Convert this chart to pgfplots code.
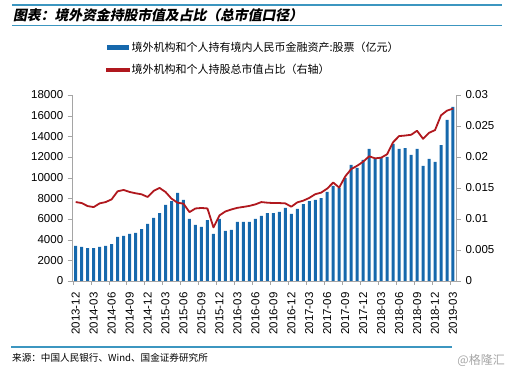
\documentclass[border=0pt]{standalone}
\usepackage{pgfplots}
\usepackage{pgfplotstable}
\pgfplotsset{compat=1.18}
\usepackage{fontspec}
\setmainfont{Liberation Sans}
\newfontfamily\cjk{Noto Sans CJK SC}
\newfontfamily\cjktitle[FakeSlant=0.2]{Noto Sans CJK SC}
\definecolor{barblue}{RGB}{22,104,172}
\definecolor{linered}{RGB}{176,24,30}
\definecolor{rulecol}{RGB}{60,150,192}
\definecolor{axgray}{RGB}{165,165,165}

\pgfplotstableread{
x bar ratio
0 3390 0.01273
1 3290 0.01257
2 3190 0.01208
3 3190 0.01192
4 3290 0.01252
5 3390 0.01273
6 3580 0.01317
7 4260 0.01447
8 4360 0.01468
9 4550 0.01436
10 4650 0.01415
11 5030 0.01398
12 5520 0.01355
13 6100 0.01452
14 6580 0.01501
15 7360 0.01436
16 7740 0.01328
17 8520 0.01263
18 7840 0.01247
19 6000 0.01111
20 5420 0.01170
21 5230 0.01178
22 5900 0.01170
23 4550 0.00865
24 6000 0.01057
25 4840 0.01122
26 4940 0.01154
27 5710 0.01180
28 5710 0.01195
29 5710 0.01211
30 6000 0.01236
31 6290 0.01273
32 6580 0.01263
33 6580 0.01257
34 6680 0.01257
35 7070 0.01252
36 6490 0.01198
37 6970 0.01268
38 7450 0.01296
39 7740 0.01340
40 7840 0.01400
41 8030 0.01426
42 8620 0.01491
43 9200 0.01588
44 9000 0.01507
45 9970 0.01686
46 11230 0.01805
47 10940 0.01859
48 11710 0.01924
49 12780 0.02011
50 11810 0.01978
51 11900 0.01989
52 12000 0.02044
53 13260 0.02239
54 12780 0.02337
55 12870 0.02346
56 12200 0.02358
57 12780 0.02423
58 11130 0.02293
59 11810 0.02390
60 11520 0.02434
61 13160 0.02672
62 15590 0.02748
63 16840 0.02780
}\datatable

\begin{document}
\begin{tikzpicture}
\path[use as bounding box] (-72.7pt,-90pt) rectangle (439.3pt,281pt);
% header / footer rules
\fill[rulecol] (-60.7pt,275.4pt) rectangle (429.3pt,276.8pt);
\fill[rulecol] (-60.7pt,254.6pt) rectangle (429.3pt,256pt);
\fill[rulecol] (-61.7pt,-66.7pt) rectangle (379.3pt,-65.3pt);
\node[anchor=west, inner sep=0pt] at (-59.7pt,265.5pt) {\cjktitle\bfseries\fontsize{13.8}{15}\selectfont 图表：境外资金持股市值及占比（总市值口径）};
\node[anchor=west, inner sep=0pt] at (-60.7pt,-77pt) {\cjk\fontsize{9.6}{11}\selectfont 来源：中国人民银行、Wind、国金证券研究所};
\node[anchor=east, inner sep=0pt, text=black!35] at (432.3pt,-79pt) {\cjk\fontsize{12}{14}\selectfont @格隆汇};

\begin{axis}[
  scale only axis, width=383.3pt, height=186pt,
  xmin=-0.5, xmax=63.5, ymin=0, ymax=18000,
  axis y line*=left, axis x line*=bottom,
  axis line style={axgray},
  tick align=outside,
  major tick length=5pt, minor tick length=4pt,
  scaled y ticks=false,
  ytick={0,2000,...,18000},
  yticklabels={0,2000,4000,6000,8000,10000,12000,14000,16000,18000},
  y tick style={axgray},
  xtick={0,3,...,63},
  xticklabels={2013-12,2014-03,2014-06,2014-09,2014-12,2015-03,2015-06,2015-09,2015-12,2016-03,2016-06,2016-09,2016-12,2017-03,2017-06,2017-09,2017-12,2018-03,2018-06,2018-09,2018-12,2019-03},
  major x tick style={draw=none},
  minor xtick={-0.5,2.5,...,63},
  minor x tick style={axgray},
  xticklabel style={rotate=90, anchor=east},
  tick label style={font=\fontsize{11.5}{13}\selectfont},
  yticklabel style={xshift=-1pt},
  xticklabel shift=3pt,
  legend style={at={(axis description cs:0.087,1.292)}, anchor=north west, draw=none, fill=none,
    font=\cjk\fontsize{11}{13}\selectfont, row sep=8pt, inner sep=0pt,
    nodes={inner sep=1.5pt}},
  legend cell align=left,
]
\addplot[ybar, bar width=3pt, fill=barblue, draw=none,
  legend image code/.code={\fill[barblue] (0pt,-2.5pt) rectangle (22pt,2.5pt);}]
  table[x=x, y=bar] {\datatable};
\addlegendentry{境外机构和个人持有境内人民币金融资产:股票（亿元）}
\addlegendimage{draw=linered, line width=1.8pt, no markers,
  legend image code/.code={\fill[linered] (0pt,-0.9pt) rectangle (22pt,0.9pt);}}
\addlegendentry{境外机构和个人持股总市值占比（右轴）}
\end{axis}

\begin{axis}[
  scale only axis, width=383.3pt, height=186pt,
  xmin=-0.5, xmax=63.5, ymin=0, ymax=0.03,
  axis y line*=right, axis x line=none,
  axis line style={axgray},
  tick align=outside, major tick length=5pt,
  ytick={0,0.005,0.01,0.015,0.02,0.025,0.03},
  yticklabels={0,0.005,0.01,0.015,0.02,0.025,0.03},
  y tick style={axgray},
  scaled y ticks=false,
  tick label style={font=\fontsize{11.5}{13}\selectfont},
  yticklabel style={xshift=1pt},
]
\addplot[linered, line width=1.8pt, line join=round] table[x=x, y=ratio] {\datatable};
\end{axis}
\end{tikzpicture}
\end{document}
